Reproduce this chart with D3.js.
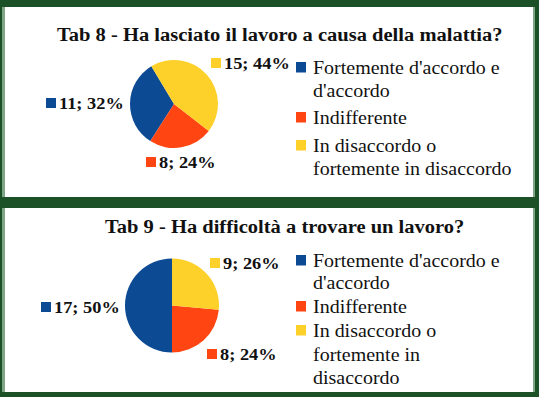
<!DOCTYPE html>
<html>
<head>
<meta charset="utf-8">
<script src="https://cdn.jsdelivr.net/npm/d3@7"></script>
<style>
  body { margin: 0; background: #1c5128; }
  svg { display: block; }
</style>
</head>
<body>
<script>
// data
var categories = ["Fortemente d'accordo e d'accordo", "Indifferente", "In disaccordo o fortemente in disaccordo"];
var colors = ["#0d4a94", "#ff4511", "#fdd02a"];

var titles = ["Tab 8 - Ha lasciato il lavoro a causa della malattia?", "Tab 9 - Ha difficoltà a trovare un lavoro?"];
var tab8Values = [11, 8, 15];
var tab8Pct = ["32%", "24%", "44%"];
var tab9Values = [17, 8, 9];
var tab9Pct = ["50%", "24%", "26%"];

// legend lines per chart (wrapping differs)
var tab8Legend = [["Fortemente d'accordo e", "d'accordo"], ["Indifferente"], ["In disaccordo o", "fortemente in disaccordo"]];
var tab9Legend = [["Fortemente d'accordo e", "d'accordo"], ["Indifferente"], ["In disaccordo o", "fortemente in", "disaccordo"]];

var W = 539, H = 397;
var SERIF = "'Liberation Serif', 'Times New Roman', serif";
var SX = 1.08; // the picture is a bit wider than tall

var svg = d3.select("body").append("svg")
    .attr("width", W)
    .attr("height", H);

svg.append("rect").attr("width", W).attr("height", H).attr("fill", "#1c5128");

function addText(sel, x, y, str, size, bold) {
  return sel.append("text")
      .attr("transform", "translate(" + x + "," + y + ") scale(" + SX + ",1)")
      .style("font-family", SERIF)
      .style("font-size", size + "px")
      .style("font-weight", bold ? "bold" : "normal")
      .attr("fill", "#111")
      .text(str);
}

var panels = [
  { y0: 7, y1: 197, title: titles[0], values: tab8Values, pct: tab8Pct, legend: tab8Legend,
    titleX: 57, titleY: 41, cx: 174, cy: 104, r: 44, start: 329,
    labels: [[46, 98], [146, 157], [211, 58]],
    legY: [[74, 97], [124], [152, 175]] },
  { y0: 208, y1: 392, title: titles[1], values: tab9Values, pct: tab9Pct, legend: tab9Legend,
    titleX: 105, titleY: 233, cx: 172, cy: 305.5, r: 47, start: 360,
    labels: [[41, 302], [207, 349], [210, 258]],
    legY: [[267, 289], [313], [337, 361, 384]] }
];

panels.forEach(function (p) {
  var g = svg.append("g");

  g.append("rect")
      .attr("x", 2).attr("y", p.y0)
      .attr("width", 533).attr("height", p.y1 - p.y0)
      .attr("fill", "#7fa587");
  g.append("rect")
      .attr("x", 5).attr("y", p.y0)
      .attr("width", 528).attr("height", p.y1 - p.y0)
      .attr("fill", "#fff");

  addText(g, p.titleX, p.titleY, p.title, 19, true);

  // pie, slices run counterclockwise like the original
  var a0 = p.start * Math.PI / 180;
  var pie = d3.pie().sort(null).startAngle(a0).endAngle(a0 - 2 * Math.PI);
  var arc = d3.arc().innerRadius(0).outerRadius(p.r);
  var arcs = pie(p.values);

  g.append("g")
      .attr("transform", "translate(" + p.cx + "," + p.cy + ")")
      .selectAll("path")
      .data(arcs)
      .enter()
      .append("path")
      .attr("d", arc)
      .attr("fill", (d, i) => colors[i]);

  // data labels
  arcs.forEach(function (d, i) {
    var lx = p.labels[i][0], ly = p.labels[i][1];
    g.append("rect")
        .attr("x", lx).attr("y", ly)
        .attr("width", 10).attr("height", 10)
        .attr("fill", colors[i]);
    addText(g, lx + 13, ly + 10.5, d.data + "; " + p.pct[i], 17, true);
  });

  // legend
  p.legend.forEach(function (lines, i) {
    var y = p.legY[i];
    g.append("rect")
        .attr("x", 296).attr("y", y[0] - 12)
        .attr("width", 10).attr("height", 10.5)
        .attr("fill", colors[i]);
    lines.forEach(function (s, j) {
      addText(g, 313, y[j], s, 18.5, false);
    });
  });
});
</script>
</body>
</html>
